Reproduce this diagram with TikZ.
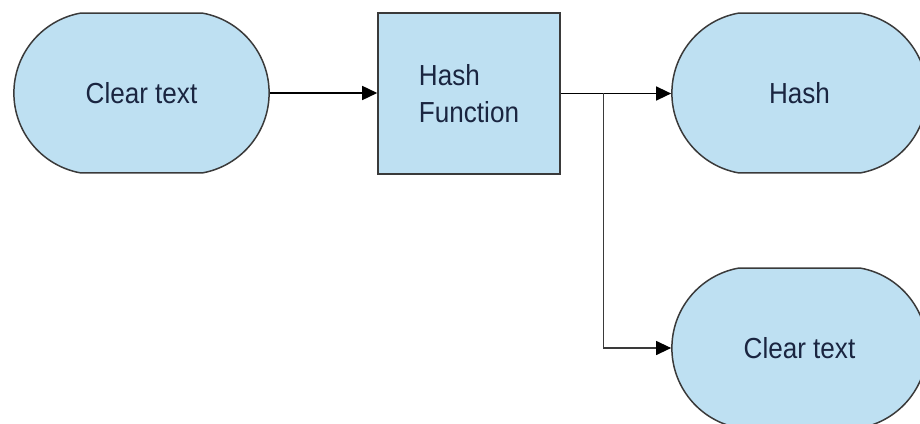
\documentclass[tikz,border=0pt]{standalone}
\usepackage{fontspec}
\setmainfont{Liberation Sans}[FakeStretch=0.9]
\usetikzlibrary{arrows.meta,calc,shapes.misc}
\definecolor{pillblue}{HTML}{BEE0F2}
\definecolor{inkblue}{HTML}{1A2540}
\definecolor{edgegray}{HTML}{3A3A3A}

\begin{document}
\begin{tikzpicture}[x=0.02cm, y=-0.02cm,
		pill/.style={rounded rectangle, rounded rectangle arc length=160, draw=edgegray,
			line width=0.85pt, fill=pillblue, minimum width=5.34cm, minimum height=3.2cm,
			text=inkblue, font=\fontsize{16.5}{21}\selectfont},
		fnbox/.style={rectangle, draw=edgegray, line width=0.9pt, fill=pillblue,
			minimum width=3.64cm, minimum height=3.22cm, text=inkblue, align=left,
			font=\fontsize{16.5}{21}\selectfont},
		arr/.style={-{Triangle[length=0.3cm, width=0.28cm, color=black]}, line width=0.85pt}]

				% Page frame
				\useasboundingbox (0,0) rectangle (920,423);

				% Nodes
				\node[pill] (plain) at (141.5,93) {Clear text};
				\node[fnbox] (fn) at (469,93.5) {Hash\\Function};
				\node[pill] (hash) at (799.5,93) {Hash};
				\node[pill] (back) at (799.5,348) {Clear text};

				% Connectors
				\coordinate (split) at ($(fn.east)!0.39!(hash.west)$);
				\draw[arr] (plain.east) -- (plain.east -| fn.west);
				\draw[arr] (fn.east) -- (fn.east -| hash.west);
				\draw[arr, draw=edgegray, line width=0.7pt] (split) |- (back.west);

			\end{tikzpicture}
\end{document}
